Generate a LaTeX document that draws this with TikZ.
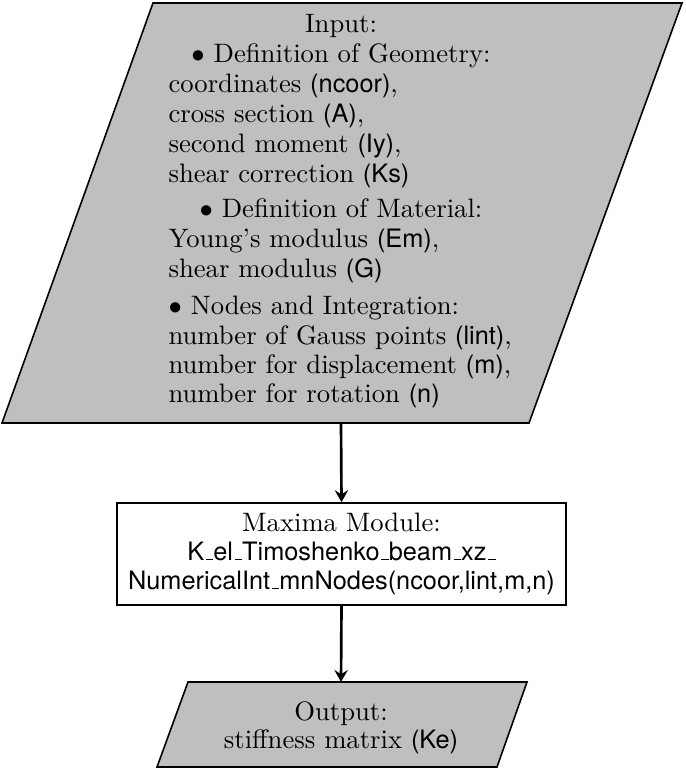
\documentclass[tikz,border=0pt]{standalone}
\usepackage{fontspec}
\setsansfont[Scale=0.95]{TeX Gyre Heros}
\usetikzlibrary{arrows.meta}
\newcommand\usc{\kern.06em\vbox{\hrule width.3em}}
\begin{document}
\begin{tikzpicture}[x=0.375pt,y=-0.375pt,
  shapeline/.style={draw=black,line width=0.6pt,fill=gray!50},
  txt/.style={inner sep=0pt,font=\fontsize{10pt}{12pt}\selectfont},
  lft/.style={txt,anchor=base west},
  ctr/.style={txt,anchor=base},
  arr/.style={-{Stealth[length=4.5pt,width=5pt,inset=1.6pt]},line width=1pt},
]
\useasboundingbox (0,0) rectangle (685,768);
% Input
\filldraw[shapeline] (153,3) -- (682,3) -- (529,423) -- (2,423) -- cycle;
\coordinate (inbot) at (341,423);
\node[ctr] (t1) at (341,33) {Input:};
\node[ctr] (t2) at (341,63) {$\bullet$ Definition of Geometry:};
\node[lft] (t3) at (168,93) {coordinates \textsf{(ncoor)},};
\node[lft] (t4) at (168,123) {cross section \textsf{(A)},};
\node[lft] (t5) at (168,153) {second moment \textsf{(Iy)},};
\node[lft] (t6) at (168,183) {shear correction \textsf{(Ks)}};
\node[ctr] (t7) at (341,218) {$\bullet$ Definition of Material:};
\node[lft] (t8) at (168,248) {Young's modulus \textsf{(Em)},};
\node[lft] (t9) at (168,278) {shear modulus \textsf{(G)}};
\node[lft] (t10) at (168,315) {$\bullet$ Nodes and Integration:};
\node[lft] (t11) at (168,345) {number of Gauss points \textsf{(lint)},};
\node[lft] (t12) at (168,374) {number for displacement \textsf{(m)},};
\node[lft] (t13) at (168,403) {number for rotation \textsf{(n)}};
% Module
\node[draw,line width=0.6pt,minimum width=168.4pt,minimum height=38.25pt,inner sep=0pt] (mod) at (341.5,554) {};
\node[ctr] (m1) at (341.5,531) {Maxima Module:};
\node[ctr] (m2) at (341.5,560) {\textsf{K\usc el\usc Timoshenko\usc beam\usc xz\usc}};
\node[ctr] (m3) at (341.5,589) {\textsf{NumericalInt\usc mnNodes(ncoor,lint,m,n)}};
% Output
\filldraw[shapeline] (188,682) -- (527,682) -- (497,767) -- (157,767) -- cycle;
\coordinate (outtop) at (341,682);
\node[ctr] (o1) at (341,720) {Output:};
\node[ctr] (o2) at (341,748) {stiffness matrix \textsf{(Ke)}};
% Arrows
\draw[arr] (inbot) -- (mod.north);
\draw[arr] (mod.south) -- (outtop);
\end{tikzpicture}
\end{document}
